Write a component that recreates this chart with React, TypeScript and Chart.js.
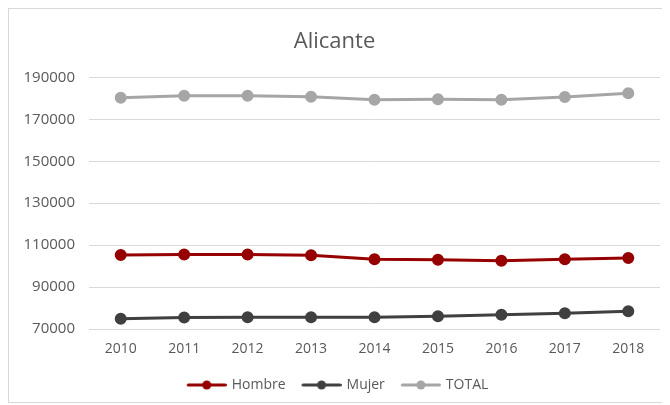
import React, { useEffect, useRef } from "react";
import { Chart, registerables } from "chart.js";

Chart.register(...registerables);

const years = ["2010", "2011", "2012", "2013", "2014", "2015", "2016", "2017", "2018"];
const hombre = [105350, 105500, 105500, 105160, 103230, 103080, 102600, 103230, 103900];
const mujer = [74840, 75470, 75610, 75610, 75610, 76100, 76770, 77550, 78510];
const total = [180300, 181300, 181300, 180800, 179360, 179550, 179360, 180660, 182450];
const yMin = 70000;
const yMax = 190000;
const yStep = 20000;

const C_H = "#960000";
const C_M = "#404040";
const C_T = "#A6A6A6";
const TEXT = "#595959";
const FONT = "'Open Sans', sans-serif";

function legendImg(color: string) {
  const c = document.createElement("canvas");
  c.width = 48;
  c.height = 12;
  const ctx = c.getContext("2d")!;
  ctx.strokeStyle = color;
  ctx.lineWidth = 3;
  ctx.lineCap = "round";
  ctx.beginPath();
  ctx.moveTo(9.5, 6);
  ctx.lineTo(46.5, 6);
  ctx.stroke();
  ctx.fillStyle = color;
  ctx.beginPath();
  ctx.arc(28, 6, 4.5, 0, Math.PI * 2);
  ctx.fill();
  return c;
}

export default function App() {
  const ref = useRef<HTMLCanvasElement>(null);
  useEffect(() => {
    const imgs = [legendImg(C_H), legendImg(C_M), legendImg(C_T)];
    const mk = (label: string, data: number[], color: string) => ({
      label,
      data,
      borderColor: color,
      backgroundColor: color,
      borderWidth: 3,
      pointRadius: 4.5,
      pointHoverRadius: 4.5,
      pointBackgroundColor: color,
      pointBorderColor: color,
      tension: 0,
    });
    const chart = new Chart(ref.current!, {
      type: "line",
      data: {
        labels: years,
        datasets: [mk("Hombre", hombre, C_H), mk("Mujer", mujer, C_M), mk("TOTAL", total, C_T)],
      },
      options: {
        animation: false,
        responsive: false,
        layout: { padding: { top: 10, right: 8, left: 0, bottom: 0 } },
        plugins: {
          title: {
            display: true,
            text: "Alicante",
            color: TEXT,
            font: { family: FONT, size: 22, weight: "normal" },
            padding: { top: 10, bottom: 22 },
          },
          legend: {
            position: "bottom",
            labels: {
              usePointStyle: true,
              pointStyleWidth: 44,
              color: TEXT,
              font: { family: FONT, size: 14 },
              padding: 10,
              generateLabels: (ch: any) => {
                const items = Chart.defaults.plugins.legend.labels.generateLabels(ch);
                return items.map((it: any, i: number) => ({ ...it, pointStyle: imgs[i] }));
              },
            },
          },
          tooltip: { enabled: false },
        },
        scales: {
          x: {
            offset: true,
            grid: { display: false },
            border: { display: false },
            ticks: { color: TEXT, font: { family: FONT, size: 14 }, padding: 4 },
            afterFit: (s: any) => {
              s.height = 39;
            },
          },
          y: {
            min: yMin,
            max: yMax,
            grid: { color: "#D9D9D9", lineWidth: 1, drawTicks: false },
            border: { display: false },
            ticks: {
              stepSize: yStep,
              color: TEXT,
              font: { family: FONT, size: 15 },
              padding: 14,
              callback: (v: any) => String(v),
            },
            afterFit: (s: any) => {
              s.width = 80;
            },
          },
        },
      } as any,
    });
    return () => chart.destroy();
  }, []);
  return (
    <div
      style={{
        width: 661,
        height: 395,
        border: "1px solid #D9D9D9",
        boxSizing: "border-box",
        background: "#fff",
      }}
    >
      <canvas ref={ref} width={659} height={393} style={{ display: "block" }} />
    </div>
  );
}
